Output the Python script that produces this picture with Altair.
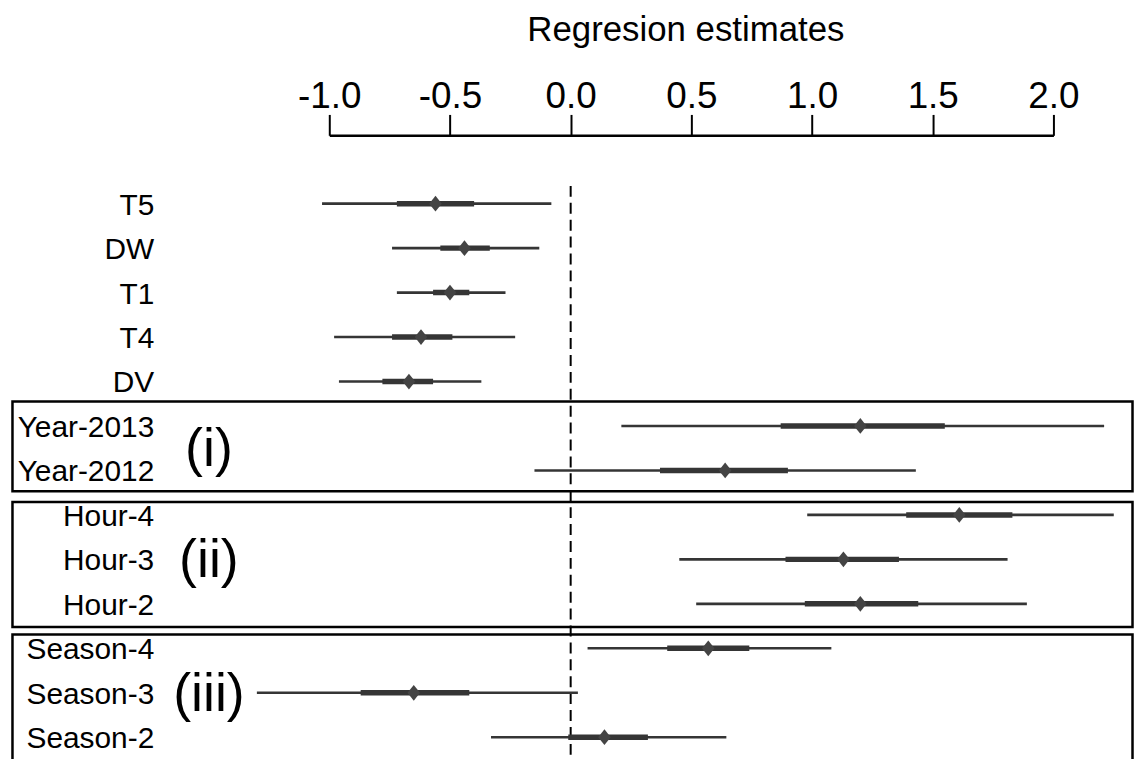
import altair as alt
import pandas as pd

# ---- data ----
labels = ["T5", "DW", "T1", "T4", "DV",
          "Year-2013", "Year-2012",
          "Hour-4", "Hour-3", "Hour-2",
          "Season-4", "Season-3", "Season-2"]
est  = [-0.56, -0.44, -0.50, -0.62, -0.67, 1.20, 0.64, 1.61, 1.13, 1.20, 0.57, -0.65, 0.14]
lo95 = [-1.03, -0.74, -0.72, -0.98, -0.96, 0.21, -0.15, 0.98, 0.45, 0.52, 0.07, -1.30, -0.33]
hi95 = [-0.08, -0.13, -0.27, -0.23, -0.37, 2.21, 1.43, 2.25, 1.81, 1.89, 1.08, 0.03, 0.645]
lo50 = [-0.72, -0.54, -0.57, -0.74, -0.78, 0.87, 0.37, 1.39, 0.89, 0.97, 0.40, -0.87, -0.01]
hi50 = [-0.40, -0.335, -0.42, -0.49, -0.57, 1.55, 0.90, 1.83, 1.36, 1.44, 0.74, -0.42, 0.32]

group_names = ["(i)", "(ii)", "(iii)"]
group_first = ["Year-2013", "Hour-4", "Season-4"]
group_last  = ["Year-2012", "Hour-2", "Season-2"]

x_ticks = [-1.0, -0.5, 0.0, 0.5, 1.0, 1.5, 2.0]

# ---- tables ----
df = pd.DataFrame({"label": labels, "est": est, "lo95": lo95, "hi95": hi95,
                   "lo50": lo50, "hi50": hi50})
df["row"] = list(range(len(labels)))

pad_top = [0.55, 0.29, 0.31]
pad_bot = [0.47, 0.52, 1.60]
first_idx = [labels.index(f) for f in group_first]
last_idx = [labels.index(l) for l in group_last]
gdf = pd.DataFrame({
    "group": group_names,
    "top": [f - p for f, p in zip(first_idx, pad_top)],
    "bottom": [l + p for l, p in zip(last_idx, pad_bot)],
    "mid": [(f + l) / 2.0 for f, l in zip(first_idx, last_idx)],
})

zdf = pd.DataFrame({"z": [0.0], "y0": [-0.4], "y1": [13.5]})

FONT = "Liberation Sans"
LINE = "#353535"

xscale = alt.Scale(domain=[-1.0, 2.0], nice=False, zero=False)
yscale = alt.Scale(domain=[-1.537, 12.087], reverse=True, nice=False, zero=False)

xaxis = alt.Axis(
    orient="top", values=x_ticks, grid=False,
    labelExpr="datum.value < 0 ? '-' + format(-datum.value, '.1f') : format(datum.value, '.1f')",
    labelFont=FONT, labelFontSize=37, labelColor="black", labelFlush=False,
    labelOverlap=False, labelBaseline="alphabetic", labelPadding=7,
    tickSize=21, tickWidth=2, tickColor="black",
    domainWidth=2.5, domainColor="black",
    title="Regresion estimates", titleFont=FONT, titleFontSize=35,
    titleFontWeight="normal", titleColor="black", titleBaseline="alphabetic",
    titleY=-95, titleX=358,
)

base = alt.Chart(df)

thin = base.mark_rule(color=LINE, strokeWidth=2.6).encode(
    x=alt.X("lo95:Q", scale=xscale, axis=xaxis),
    x2="hi95:Q",
    y=alt.Y("row:Q", scale=yscale, axis=None),
)
thick = base.mark_rule(color=LINE, strokeWidth=5.5).encode(
    x=alt.X("lo50:Q", scale=xscale, axis=xaxis),
    x2="hi50:Q",
    y=alt.Y("row:Q", scale=yscale, axis=None),
)
points = base.mark_point(
    shape="M0,-1L0.8,0L0,1L-0.8,0Z", size=250, filled=True,
    color="#444444", opacity=1, strokeWidth=0,
).encode(
    x=alt.X("est:Q", scale=xscale, axis=xaxis),
    y=alt.Y("row:Q", scale=yscale, axis=None),
)

ylabels = base.mark_text(
    align="right", baseline="middle", font=FONT, fontSize=30, color="black", dy=2,
).encode(
    x=alt.value(-176),
    y=alt.Y("row:Q", scale=yscale, axis=None),
    text="label:N",
)

zero_line = alt.Chart(zdf).mark_rule(
    color="black", strokeWidth=2, strokeDash=[11, 6],
).encode(
    x=alt.X("z:Q", scale=xscale, axis=xaxis),
    y=alt.Y("y0:Q", scale=yscale, axis=None),
    y2="y1:Q",
)

boxes = alt.Chart(gdf).mark_rect(
    filled=False, color="black", strokeWidth=2.5,
).encode(
    x=alt.value(-318.5), x2=alt.value(807.5),
    y=alt.Y("top:Q", scale=yscale, axis=None),
    y2="bottom:Q",
)

glabels = alt.Chart(gdf).mark_text(
    align="center", baseline="middle", font=FONT, fontSize=54, color="black", dy=2,
).encode(
    x=alt.value(-121),
    y=alt.Y("mid:Q", scale=yscale, axis=None),
    text="group:N",
)

chart = alt.layer(zero_line, thin, thick, points, ylabels, boxes, glabels).properties(
    width=728, height=609,
    padding={"left": 323, "top": 126, "right": 81, "bottom": 16},
    autosize=alt.AutoSizeParams(type="none"),
    background="white",
).configure_view(strokeWidth=0)

chart.save("out.html", embed_options={"renderer": "svg", "actions": False})
